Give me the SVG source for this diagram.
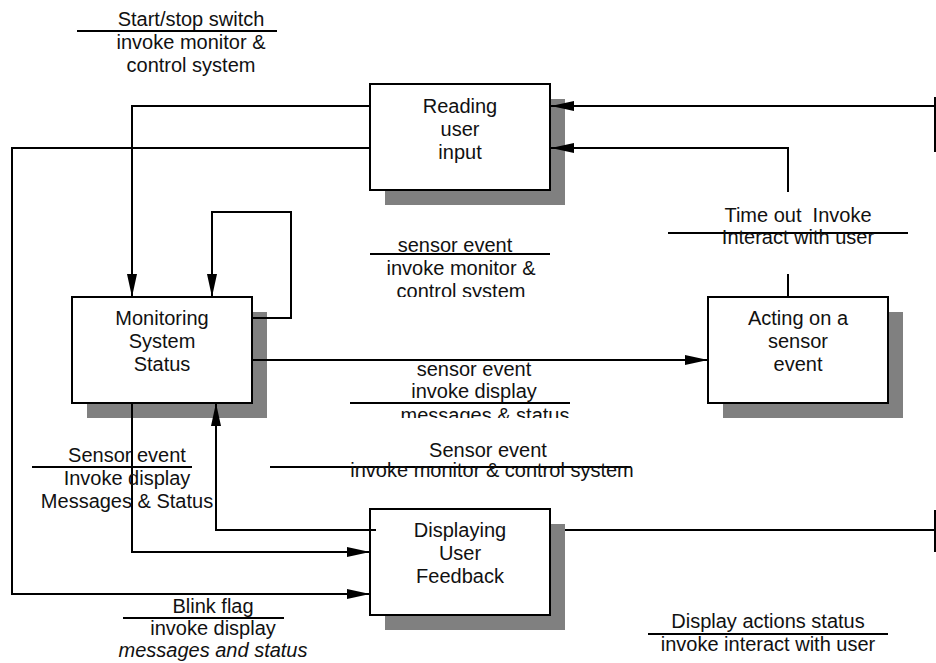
<svg xmlns="http://www.w3.org/2000/svg" width="936" height="663" viewBox="0 0 936 663">
  <style>
    text { font-family: "Liberation Sans", Arial, sans-serif; font-size: 20px; fill: #111; text-anchor: middle; white-space: pre; }
    .box { fill: #fff; stroke: #000; stroke-width: 2; }
    .shadow { fill: #808080; }
    .wire { fill: none; stroke: #000; stroke-width: 2; }
    .rule { stroke: #000; stroke-width: 2; }
    .it { font-style: italic; }
  </style>
  <defs>
    <marker id="arrow" markerUnits="userSpaceOnUse" markerWidth="24" markerHeight="12" refX="23" refY="5" orient="auto">
      <path d="M0,0 L23,5 L0,10 z" fill="#000"/>
    </marker>
    <clipPath id="clipUpper"><rect x="300" y="230" width="320" height="67"/></clipPath>
    <clipPath id="clipLower"><rect x="300" y="355" width="320" height="63"/></clipPath>
  </defs>

  <rect width="936" height="663" fill="#fff"/>

  <!-- Nodes -->
  <g id="reading-user-input">
    <rect class="shadow" x="385" y="99" width="180" height="106"/>
    <rect class="box" x="370" y="84" width="180" height="106"/>
    <text x="460" y="113">Reading</text>
    <text x="460" y="136">user</text>
    <text x="460" y="159">input</text>
  </g>

  <g id="monitoring-system-status">
    <rect class="shadow" x="87" y="312" width="180" height="106"/>
    <rect class="box" x="72" y="297" width="180" height="106"/>
    <text x="162" y="325">Monitoring</text>
    <text x="162" y="348">System</text>
    <text x="162" y="371">Status</text>
  </g>

  <g id="acting-on-sensor-event">
    <rect class="shadow" x="723" y="312" width="180" height="106"/>
    <rect class="box" x="708" y="297" width="180" height="106"/>
    <text x="798" y="325">Acting on a</text>
    <text x="798" y="348">sensor</text>
    <text x="798" y="371">event</text>
  </g>

  <g id="displaying-user-feedback">
    <rect class="shadow" x="385" y="524" width="180" height="106"/>
    <rect class="box" x="370" y="509" width="180" height="106"/>
    <text x="460" y="537">Displaying</text>
    <text x="460" y="560">User</text>
    <text x="460" y="583">Feedback</text>
  </g>

  <!-- Connectors -->
  <g id="connectors">
    <!-- incoming from the right edge into Reading -->
    <path class="wire" d="M935,106 H551" marker-end="url(#arrow)"/>
    <line class="wire" x1="935" y1="97" x2="935" y2="152"/>
    <!-- Reading -> Monitoring -->
    <path class="wire" d="M370,106 H132 V297" marker-end="url(#arrow)"/>
    <!-- Reading -> Displaying (blink flag) -->
    <path class="wire" d="M370,148 H12 V594 H370" marker-end="url(#arrow)"/>
    <!-- Acting -> Reading (time out) -->
    <path class="wire" d="M788,297 V274"/>
    <path class="wire" d="M788,192 V148 H551" marker-end="url(#arrow)"/>
    <!-- Monitoring self loop -->
    <path class="wire" d="M252,318 H291 V212 H212 V297" marker-end="url(#arrow)"/>
    <!-- Monitoring -> Acting -->
    <path class="wire" d="M252,360 H708" marker-end="url(#arrow)"/>
    <!-- Monitoring -> Displaying -->
    <path class="wire" d="M132,403 V552 H370" marker-end="url(#arrow)"/>
    <!-- Displaying -> Monitoring -->
    <path class="wire" d="M376,530 H216 V403" marker-end="url(#arrow)"/>
    <!-- Displaying -> right edge -->
    <path class="wire" d="M565,530 H936"/>
    <line class="wire" x1="935" y1="510" x2="935" y2="552"/>
  </g>

  <!-- Connector labels -->
  <g id="labels">
    <text x="191" y="26">Start/stop switch</text>
    <line class="rule" x1="77" y1="31" x2="277" y2="31"/>
    <text x="191" y="49">invoke monitor &amp;</text>
    <text x="191" y="72">control system</text>

    <text x="455" y="252">sensor event</text>
    <line class="rule" x1="370" y1="254" x2="550" y2="254"/>
    <g clip-path="url(#clipUpper)">
      <text x="461" y="275">invoke monitor &amp;</text>
      <text x="461" y="298">control system</text>
    </g>

    <text x="474" y="376">sensor event</text>
    <text x="474" y="398">invoke display</text>
    <line class="rule" x1="350" y1="403" x2="570" y2="403"/>
    <g clip-path="url(#clipLower)">
      <text x="485" y="422">messages &amp; status</text>
    </g>

    <text x="798" y="222">Time out  Invoke</text>
    <line class="rule" x1="668" y1="233" x2="908" y2="233"/>
    <text x="798" y="244">Interact with user</text>

    <text x="488" y="457">Sensor event</text>
    <line class="rule" x1="270" y1="467" x2="631" y2="467"/>
    <text x="492" y="477">invoke monitor &amp; control system</text>

    <text x="127" y="462">Sensor event</text>
    <line class="rule" x1="32" y1="467" x2="192" y2="467"/>
    <text x="127" y="485">Invoke display</text>
    <text x="127" y="508">Messages &amp; Status</text>

    <text x="213" y="613">Blink flag</text>
    <line class="rule" x1="123" y1="618" x2="284" y2="618"/>
    <text x="213" y="635">invoke display</text>
    <text class="it" x="213" y="657">messages and status</text>

    <text x="768" y="628">Display actions status</text>
    <line class="rule" x1="648" y1="634" x2="888" y2="634"/>
    <text x="768" y="651">invoke interact with user</text>
  </g>
</svg>
